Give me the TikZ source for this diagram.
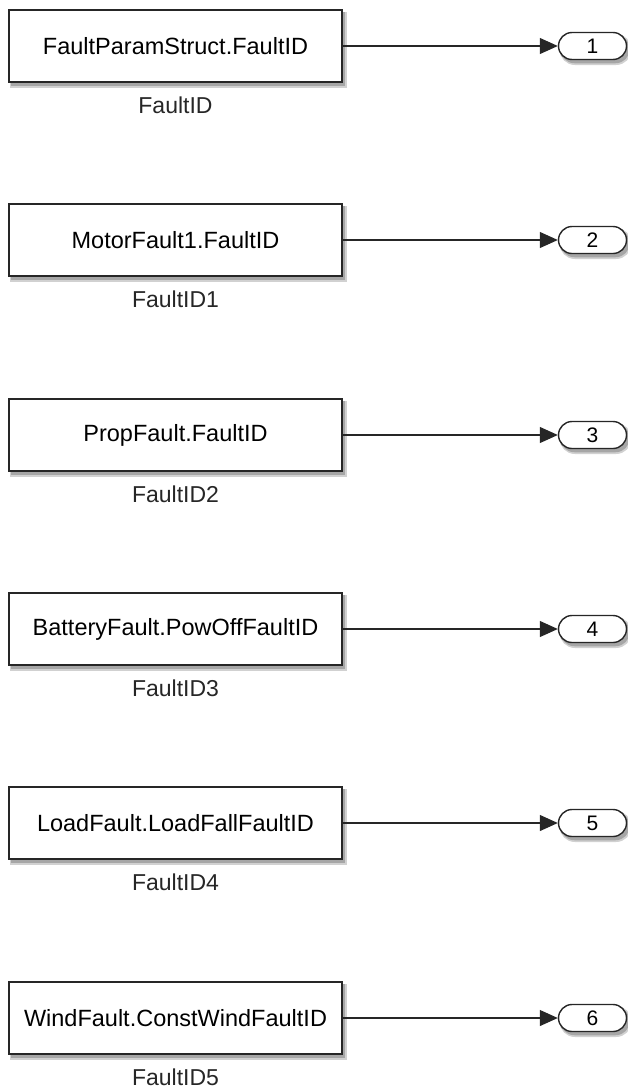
\documentclass[tikz,border=0pt]{standalone}
\usepackage{fontspec}
\setmainfont{Liberation Sans}
\usetikzlibrary{arrows.meta,shapes.misc}
\tikzset{
  softshadow/.style={preaction={draw=black!18, line width=4pt, fill=black!18,
      transform canvas={xshift=3pt,yshift=-3.5pt}},
    preaction={draw=black!35, line width=1.5pt, fill=black!35,
      transform canvas={xshift=2.5pt,yshift=-3pt}}},
  blockbox/.style={softshadow, draw=black!85, line width=1.6pt, fill=white, rectangle,
    minimum width=333pt, minimum height=72pt, inner sep=0pt,
    font=\fontsize{23.5}{28}\selectfont},
  blocklabel/.style={font=\fontsize{23}{28}\selectfont, inner sep=0pt, text=black!85},
  outport/.style={softshadow, draw=black!85, line width=1.4pt, fill=white, rounded rectangle,
    minimum width=68pt, minimum height=27pt, inner sep=0pt,
    font=\fontsize{21}{25}\selectfont},
  sig/.style={draw=black!85, line width=1.1pt, -{Triangle[length=18pt,width=16pt]}}
}
\begin{document}
\begin{tikzpicture}[x=1pt,y=-1pt]
\useasboundingbox (0,0) rectangle (628,1090);
\foreach \i/\y/\txt/\lab in {
  1/46/FaultParamStruct.FaultID/FaultID,
  2/240/MotorFault1.FaultID/FaultID1,
  3/435/PropFault.FaultID/FaultID2,
  4/629/BatteryFault.PowOffFaultID/FaultID3,
  5/823/LoadFault.LoadFallFaultID/FaultID4,
  6/1018/WindFault.ConstWindFaultID/FaultID5}{
  \node[blockbox] (b\i) at (175.5,\y) {\txt};
  \node[blocklabel] (l\i) at (175.5,\y+59) {\lab};
  \node[outport] (o\i) at (592.5,\y) {\i};
  \draw[sig] (b\i.east) -- (o\i.west);
}
\end{tikzpicture}
\end{document}
